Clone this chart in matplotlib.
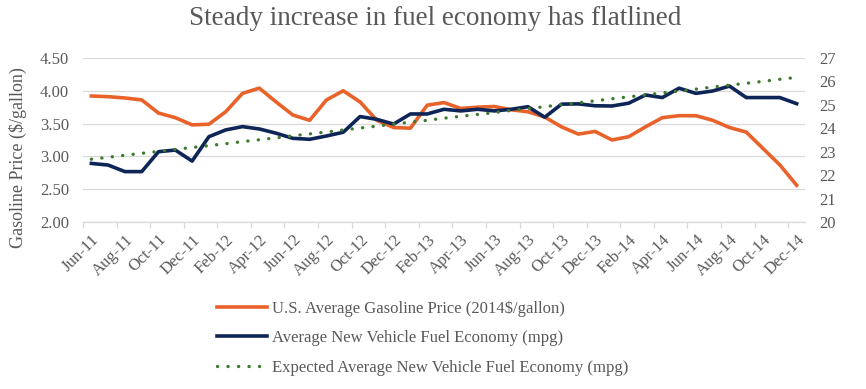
import numpy as np
import matplotlib
matplotlib.use('Agg')
import matplotlib.pyplot as plt

plt.rcParams['font.family'] = ['Liberation Serif', 'DejaVu Serif']

months = ['Jun-11', 'Jul-11', 'Aug-11', 'Sep-11', 'Oct-11', 'Nov-11', 'Dec-11',
          'Jan-12', 'Feb-12', 'Mar-12', 'Apr-12', 'May-12', 'Jun-12', 'Jul-12',
          'Aug-12', 'Sep-12', 'Oct-12', 'Nov-12', 'Dec-12', 'Jan-13', 'Feb-13',
          'Mar-13', 'Apr-13', 'May-13', 'Jun-13', 'Jul-13', 'Aug-13', 'Sep-13',
          'Oct-13', 'Nov-13', 'Dec-13', 'Jan-14', 'Feb-14', 'Mar-14', 'Apr-14',
          'May-14', 'Jun-14', 'Jul-14', 'Aug-14', 'Sep-14', 'Oct-14', 'Nov-14',
          'Dec-14']

gas_price = [3.92, 3.91, 3.89, 3.86, 3.66, 3.59, 3.48, 3.49, 3.68, 3.96, 4.04,
             3.83, 3.63, 3.55, 3.86, 4.00, 3.83, 3.55, 3.44, 3.43, 3.78, 3.82,
             3.73, 3.75, 3.76, 3.71, 3.68, 3.60, 3.45, 3.34, 3.38, 3.25, 3.30,
             3.45, 3.59, 3.62, 3.62, 3.55, 3.44, 3.37, 3.12, 2.87, 2.56]

fuel_economy = [22.50, 22.43, 22.15, 22.15, 23.00, 23.07, 22.60, 23.64, 23.93,
                24.07, 23.97, 23.79, 23.57, 23.53, 23.67, 23.83, 24.50, 24.38,
                24.18, 24.61, 24.61, 24.81, 24.74, 24.81, 24.74, 24.81, 24.92,
                24.47, 25.03, 25.04, 24.96, 24.95, 25.07, 25.42, 25.31, 25.71,
                25.49, 25.59, 25.80, 25.31, 25.31, 25.31, 25.05]

expected_economy = [22.68, 22.76, 22.85, 22.93, 23.01, 23.10, 23.18, 23.26,
                    23.34, 23.43, 23.51, 23.59, 23.68, 23.76, 23.84, 23.93,
                    24.01, 24.09, 24.18, 24.26, 24.34, 24.43, 24.51, 24.59,
                    24.67, 24.76, 24.84, 24.92, 25.01, 25.09, 25.17, 25.26,
                    25.34, 25.42, 25.51, 25.59, 25.67, 25.76, 25.84, 25.92,
                    26.00, 26.09, 26.17]

grey = '#595959'
x = np.arange(len(months))

fig = plt.figure(figsize=(8.66, 3.89), dpi=100)
ax = fig.add_axes([0.0958, 0.4293, 0.8338, 0.4217])
ax2 = ax.twinx()

l1, = ax.plot(x, gas_price, color='#E8622A', lw=2.6, solid_joinstyle='round',
              label='U.S. Average Gasoline Price (2014$/gallon)')
l2, = ax2.plot(x, fuel_economy, color='#0E2557', lw=2.6, solid_joinstyle='round',
               label='Average New Vehicle Fuel Economy (mpg)')
l3, = ax2.plot(x, expected_economy, color='#3E7A2E', lw=2.4,
               linestyle=(0, (0.05, 3.1)), dash_capstyle='round',
               label='Expected Average New Vehicle Fuel Economy (mpg)')

ax.set_ylim(2.0, 4.5)
ax.set_yticks(np.arange(2.0, 4.51, 0.5))
ax.set_yticklabels(['%.2f' % v for v in np.arange(2.0, 4.51, 0.5)])
ax2.set_ylim(20, 27)
ax2.set_yticks(range(20, 28))
ax.set_xlim(-0.5, len(months) - 0.5)

ax.grid(axis='y', color='#d9d9d9', lw=0.9)
ax.set_axisbelow(True)
for a in (ax, ax2):
    for s in a.spines.values():
        s.set_visible(False)
ax.spines['bottom'].set_visible(True)
ax.spines['bottom'].set_color('#d9d9d9')
ax.spines['bottom'].set_linewidth(0.9)

ax.set_xticks(x[::2] - 0.5)
ax.set_xticklabels([])
ax.tick_params(axis='x', which='major', length=4, color='#d9d9d9', width=0.9)
ax.set_xticks(x[::2], minor=True)
ax.set_xticklabels(months[::2], minor=True, rotation=45, ha='right',
                   rotation_mode='anchor', fontsize=12, color=grey)
ax.tick_params(axis='x', which='minor', length=0, pad=7)

ax.tick_params(axis='y', length=0, labelsize=12, labelcolor=grey, pad=10)
ax2.tick_params(axis='y', length=0, labelsize=12, labelcolor=grey, pad=10)
ax.set_ylabel('Gasoline Price ($/gallon)', fontsize=13, color=grey)
ax.yaxis.set_label_coords(-0.078, 0.39)

fig.suptitle('Steady increase in fuel economy has flatlined', fontsize=19.5,
             color=grey, x=0.502, y=0.985)

fig.legend(handles=[l1, l2, l3], loc='upper left', bbox_to_anchor=(0.243, 0.245),
           frameon=False, fontsize=12, labelcolor=grey, handlelength=3.0,
           handletextpad=0.3, labelspacing=0.8, borderaxespad=0)

fig.savefig('out.png', dpi=100)
